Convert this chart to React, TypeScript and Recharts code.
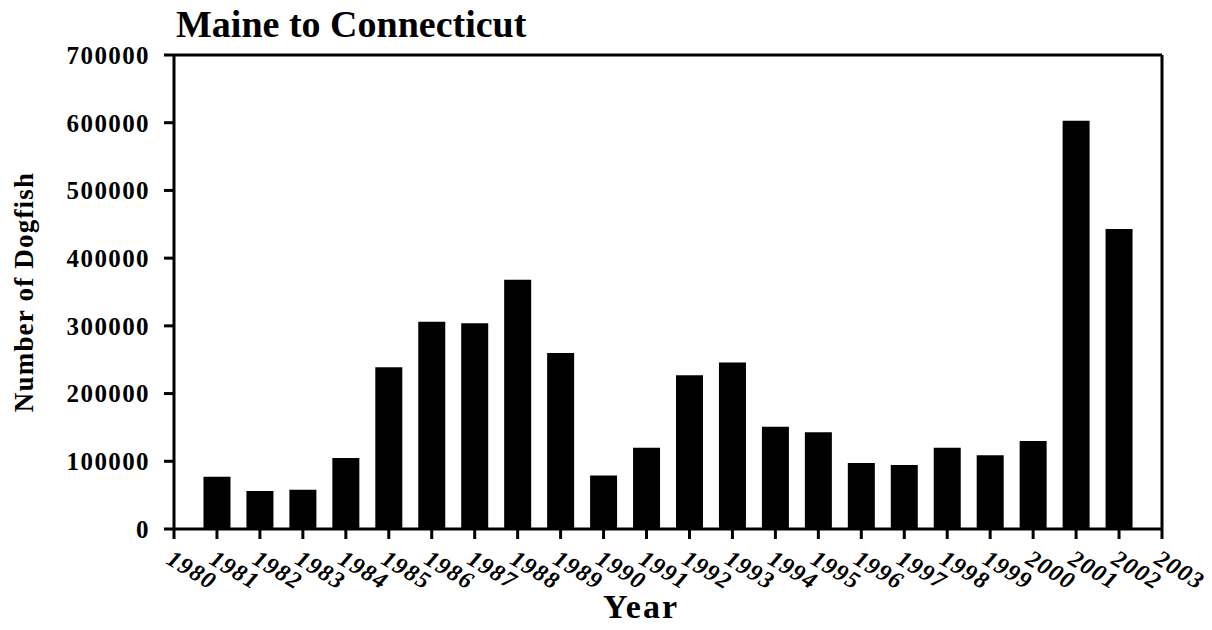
import React from 'react'
import { BarChart, Bar, XAxis, YAxis, ReferenceLine } from 'recharts'

// Spiny dogfish counts, Maine to Connecticut
const years = [
  1981, 1982, 1983, 1984, 1985, 1986, 1987, 1988, 1989, 1990, 1991,
  1992, 1993, 1994, 1995, 1996, 1997, 1998, 1999, 2000, 2001, 2002,
]
const dogfish = [
  77000, 56000, 58000, 105000, 239000, 306000, 304000, 368000, 260000, 79000, 120000,
  227000, 246000, 151000, 143000, 97500, 94500, 120000, 109000, 130000, 603000, 443000,
]
const yearTicks = [
  1980, 1981, 1982, 1983, 1984, 1985, 1986, 1987, 1988, 1989, 1990, 1991,
  1992, 1993, 1994, 1995, 1996, 1997, 1998, 1999, 2000, 2001, 2002, 2003,
]
const countTicks = [0, 100000, 200000, 300000, 400000, 500000, 600000, 700000]

const serif = '"Liberation Serif", "Times New Roman", serif'

const YearTick = (props: any) => {
  const { x, y, payload } = props
  const tx = x - 9
  const ty = y + 22
  return (
    <text
      x={tx}
      y={ty}
      transform={`rotate(31, ${tx}, ${ty})`}
      textAnchor="start"
      fontFamily={serif}
      fontWeight="bold"
      fontStyle="italic"
      fontSize={24}
      letterSpacing={1.2}
      fill="#000"
    >
      {payload.value}
    </text>
  )
}

const App: React.FC = () => {
  const data = years.map((year, i) => ({ year, count: dogfish[i] }))

  return (
    <div style={{ position: 'absolute', left: 0, top: 0, width: 1212, height: 630, background: '#fff' }}>
      {/* Title */}
      <div
        style={{
          position: 'absolute',
          left: 176,
          top: 5,
          fontFamily: serif,
          fontWeight: 'bold',
          fontSize: 38,
          lineHeight: 1,
          whiteSpace: 'nowrap',
        }}
      >
        Maine to Connecticut
      </div>

      {/* Y axis title */}
      <div
        style={{
          position: 'absolute',
          left: 24,
          top: 292,
          transform: 'translate(-50%, -50%) rotate(-90deg)',
          fontFamily: serif,
          fontWeight: 'bold',
          fontSize: 27,
          letterSpacing: 1.2,
          lineHeight: 1,
          whiteSpace: 'nowrap',
        }}
      >
        Number of Dogfish
      </div>

      {/* X axis title */}
      <div
        style={{
          position: 'absolute',
          left: 641,
          top: 590,
          transform: 'translateX(-50%)',
          fontFamily: serif,
          fontWeight: 'bold',
          fontSize: 34,
          letterSpacing: 2,
          lineHeight: 1,
          whiteSpace: 'nowrap',
        }}
      >
        Year
      </div>

      <BarChart width={1212} height={630} data={data} margin={{ top: 55, right: 50, bottom: 0, left: 0 }}>
        <XAxis
          dataKey="year"
          type="number"
          domain={[1980, 2003]}
          ticks={yearTicks}
          interval={0}
          height={101}
          tickSize={10}
          axisLine={{ stroke: '#000', strokeWidth: 3 }}
          tickLine={{ stroke: '#000', strokeWidth: 3 }}
          tick={<YearTick />}
        />
        <YAxis
          domain={[0, 700000]}
          ticks={countTicks}
          interval={0}
          width={174}
          tickSize={10}
          tickMargin={14}
          axisLine={{ stroke: '#000', strokeWidth: 3 }}
          tickLine={{ stroke: '#000', strokeWidth: 3 }}
          tick={{ fill: '#000', fontFamily: serif, fontWeight: 'bold', fontSize: 25, letterSpacing: 1.4 }}
        />
        <ReferenceLine y={700000} stroke="#000" strokeWidth={3} />
        <ReferenceLine x={2003} stroke="#000" strokeWidth={3} />
        <Bar dataKey="count" fill="#000" barSize={27} isAnimationActive={false} />
      </BarChart>
    </div>
  )
}

export default App
